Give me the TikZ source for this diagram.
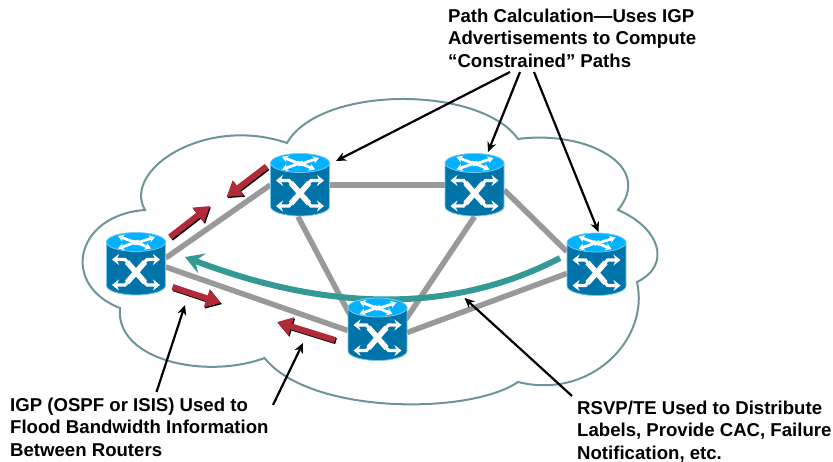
\documentclass[tikz,border=0pt]{standalone}
\usepackage{fontspec}
\setmainfont{Liberation Sans}
\usetikzlibrary{arrows.meta}
\definecolor{routerbody}{RGB}{0,115,168}
\definecolor{routertop}{RGB}{0,178,255}
\definecolor{routerrim}{RGB}{120,200,240}
\definecolor{cloudline}{RGB}{110,148,153}
\definecolor{linkgray}{RGB}{153,153,153}
\definecolor{pathteal}{RGB}{51,153,148}
\definecolor{floodred}{RGB}{176,42,58}
\tikzset{
  link/.style={draw=linkgray, line width=5.5pt},
  lsp/.style={draw=pathteal, line width=6pt, -{Stealth[length=18pt,width=21pt,inset=7pt]}},
  callout/.style={draw=black, line width=2.2pt, -{Stealth[length=10pt,width=9pt]}},
  flood/.style={draw=floodred, line width=6pt, -{Triangle[length=15pt,width=18pt]}},
  floodshadow/.style={draw=black, line width=6pt, -{Triangle[length=15pt,width=18pt]}},
  note/.style={anchor=north west, align=left, font=\fontsize{18.6}{22.3}\selectfont\bfseries, inner sep=0pt},
  routerbox/.style={minimum width=59pt, minimum height=63pt, inner sep=0pt},
  icon/.style={draw=white, line width=3.2pt, {Stealth[length=7pt,width=11pt]}-{Stealth[length=7pt,width=11pt]}},
  iconbar/.style={draw=white, line width=5.5pt},
  topicon/.style={draw=white, line width=2.8pt, -{Stealth[length=6pt,width=7.5pt]}}
}
\newcommand{\router}[3]{%
  \begin{scope}[shift={(#2,#3)}]
    \fill[routerbody, draw=routerrim, line width=0.8pt] (-29.5,-22) -- (-29.5,21.5) arc[start angle=180, end angle=0, x radius=29.5, y radius=9.5] -- (29.5,-22) -- cycle;
    \fill[routertop, draw=routerrim, line width=0.8pt] (0,-22) ellipse[x radius=29.5, y radius=9.5];
    \draw[icon] (-24,-4.5) -- (-11,-4.5) -- (11,21) -- (24,21);
    \draw[icon] (24,-4.5) -- (11,-4.5) -- (-11,21) -- (-24,21);
    \draw[iconbar] (-9,-2) -- (9,18.5);
    \draw[iconbar] (9,-2) -- (-9,18.5);
    \draw[topicon] (3,-20) -- (-18,-28);
    \draw[topicon] (-2,-20) -- (19,-27);
    \draw[topicon] (3,-23) -- (-18,-15.5);
    \draw[topicon] (-3,-23) -- (15,-15.5);
  \end{scope}
}
\newcommand{\floodarrow}[2]{%
  \draw[floodshadow] ([shift={(1,1.2)}]#1) -- ([shift={(1,1.2)}]#2);
  \draw[flood] (#1) -- (#2);
}
\begin{document}
\begin{tikzpicture}[x=1pt, y=-1pt]
  \useasboundingbox (0,0) rectangle (833,462);
  % cloud
  \draw[cloudline, line width=2pt] (145,210) .. controls (122,170) and (205,115) .. (287,143)
    .. controls (320,85) and (480,85) .. (518,139)
    .. controls (585,130) and (655,165) .. (618,210)
    .. controls (660,228) and (672,265) .. (637,282)
    .. controls (650,340) and (590,400) .. (518,382)
    .. controls (470,415) and (310,415) .. (264.5,358)
    .. controls (205,380) and (115,360) .. (120,308)
    .. controls (60,285) and (75,215) .. cycle;
  % names of the routers
  \node[routerbox] (left) at (136,264) {};
  \node[routerbox] (top) at (300,185) {};
  \node[routerbox] (topright) at (474.5,185) {};
  \node[routerbox] (right) at (596.5,264.5) {};
  \node[routerbox] (bottom) at (377.5,329.5) {};
  % links
  \draw[link] ([shift={(0,-6)}]left.east) -- (top.west);
  \draw[link] ([shift={(0,3)}]left.east) -- ([shift={(0,1)}]bottom.west);
  \draw[link] (top.east) -- (topright.west);
  \draw[link] ([shift={(-2,0)}]top.south) -- ([shift={(-25,22)}]bottom.north);
  \draw[link] (topright.south) -- ([shift={(28,22)}]bottom.north);
  \draw[link] ([shift={(0,5)}]topright.east) -- ([shift={(0,-13)}]right.west);
  \draw[link] ([shift={(0,3)}]bottom.east) -- ([shift={(0,9)}]right.west);
  % path
  \coordinate (lsp start) at (560,258);
  \coordinate (lsp end) at (185,257);
  \draw[lsp] (lsp start) .. controls (470,305) and (350,320) .. (lsp end);
  % routers
  \router{left}{136}{264}
  \router{top}{300}{185}
  \router{topright}{474.5}{185}
  \router{right}{596.5}{264.5}
  \router{bottom}{377.5}{329.5}
  % flooding
  \floodarrow{266.5,166.5}{226.5,197}
  \floodarrow{170,237}{210,206}
  \floodarrow{172.5,287}{221,303}
  \floodarrow{335,340}{277,322}
  % notes
  \node[note] (pathnote) at (448,9) {Path Calculation—Uses IGP\\Advertisements to Compute\\“Constrained” Paths};
  \node[note] (igpnote) at (10,398) {IGP (OSPF or ISIS) Used to\\Flood Bandwidth Information\\Between Routers};
  \node[note] (rsvpnote) at (577,401) {RSVP/TE Used to Distribute\\Labels, Provide CAC, Failure\\Notification, etc.};
  % callouts
  \coordinate (a1) at (510,72);
  \coordinate (a2) at (520,72);
  \coordinate (a3) at (534,72);
  \coordinate (a4) at (156.5,392);
  \coordinate (a5) at (273,405);
  \coordinate (a6) at (572,396);
  \coordinate (t1) at (336,161);
  \coordinate (t2) at (488,152);
  \coordinate (t3) at (598.5,232);
  \coordinate (t4) at (185,305);
  \coordinate (t5) at (303,343);
  \coordinate (t6) at (464.5,298);
  \foreach \i in {1,...,6}
    \draw[callout] (a\i) -- (t\i);
\end{tikzpicture}
\end{document}
